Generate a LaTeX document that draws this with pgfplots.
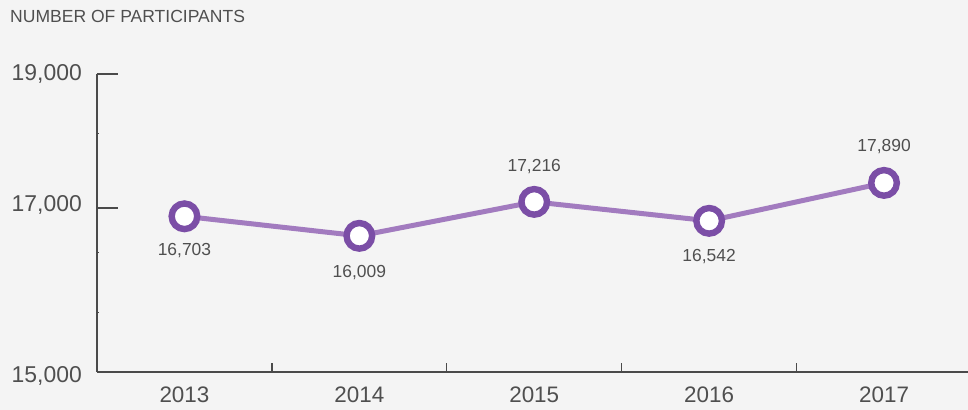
\documentclass[border=0pt]{standalone}
\usepackage{fontspec}
\setmainfont{Liberation Sans}
\usepackage{pgfplots}
\usepackage{pgfplotstable}
\pgfplotsset{compat=1.18}
\definecolor{bg}{HTML}{F4F4F4}
\definecolor{axcol}{HTML}{4A4A4A}
\definecolor{txt}{HTML}{4F4F4F}
\definecolor{linecol}{HTML}{A27BBF}
\definecolor{markcol}{HTML}{7B4EA6}
\pgfplotstableread{
x y dy
0 16703 -34.3
1 16009 -37.0
2 17216 35.2
3 16542 -35.8
4 17890 36.4
}\datatable
\begin{document}
\begin{tikzpicture}[x=1bp,y=1bp]
\path[use as bounding box, fill=bg] (-97bp,-38bp) rectangle (871bp,372bp);
\begin{axis}[
  at={(0,0)}, anchor=south west,
  scale only axis,
  width=871bp, height=298bp,
  xmin=-0.5, xmax=4.48,
  ymin=11170, ymax=21760,
  scaled y ticks=false,
  axis lines*=left,
  axis line style={draw=axcol, line width=1.6bp},
  clip=false,
  tick align=inside,
  xtick={0,1,2,3,4},
  xticklabels={2013,2014,2015,2016,2017},
  minor xtick={0.5,1.5,2.5,3.5},
  major x tick style={draw=none},
  minor x tick style={draw=axcol, line width=1.3bp},
  minor tick length=9bp,
  ytick={11170,17000,21760},
  yticklabels={{15,000},{17,000},{19,000}},
  major y tick style={draw=axcol, line width=1.6bp},
  major tick length=21bp,
  extra y ticks={13302,15434,19663},
  extra y tick labels={},
  extra y tick style={major tick length=2bp, major y tick style={draw=axcol, line width=1bp}},
  every x tick label/.append style={anchor=north, inner sep=0pt, yshift=-14.5bp, font=\fontsize{22.5}{26}\selectfont, text=txt},
  every y tick label/.append style={anchor=east, inner sep=0pt, xshift=-15bp, yshift={(\ticknum==0)*(-4)+(\ticknum==1)*(2.5)}, font=\fontsize{23}{27}\selectfont, text=txt},
]
\addplot[
  color=linecol, line width=5bp,
  mark=*, mark size=12.8bp,
  mark options={draw=markcol, fill=white, line width=6.4bp},
  nodes near coords={\pgfmathprintnumber[assume math mode=true, 1000 sep={,}]{\pgfplotspointmeta}},
  point meta=explicit,
  visualization depends on={\thisrow{dy} \as \dy},
  every node near coord/.append style={anchor=center, inner sep=0pt, yshift=\dy bp, font=\fontsize{17.5}{20}\selectfont, text=txt},
] table[x=x, y=y, meta=y] {\datatable};
\node[anchor=base west, inner sep=0pt, font=\fontsize{17.6}{20}\selectfont, text=txt] at (rel axis cs:0,1) [xshift=-87bp, yshift=51.7bp] {NUMBER OF PARTICIPANTS};
\end{axis}
\end{tikzpicture}
\end{document}
